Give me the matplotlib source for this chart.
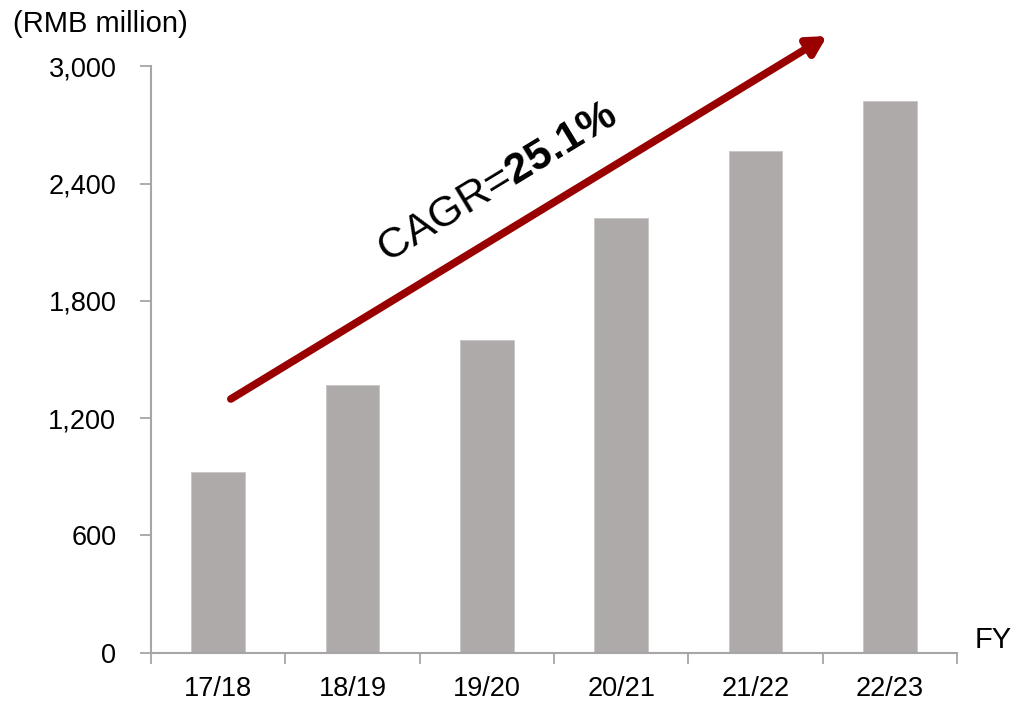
import matplotlib
matplotlib.use("Agg")
import matplotlib.pyplot as plt
import numpy as np

# Revenue by fiscal year (RMB million)
fiscal_years = ["17/18", "18/19", "19/20", "20/21", "21/22", "22/23"]
revenue = [924, 1370, 1600, 2224, 2568, 2825]
y_ticks = [0, 600, 1200, 1800, 2400, 3000]
cagr_label = "25.1%"

plt.rcParams["font.family"] = ["Liberation Sans", "DejaVu Sans"]
plt.rcParams["mathtext.fontset"] = "custom"
plt.rcParams["mathtext.rm"] = "Liberation Sans"
plt.rcParams["mathtext.bf"] = "Liberation Sans:bold"

axis_gray = "#A6A6A6"
bar_gray = "#AEAAAA"
arrow_red = "#990000"

fig = plt.figure(figsize=(10.15, 7.02), dpi=100)
ax = fig.add_axes([0.1488, 0.0705, 0.7941, 0.8348])

x = np.arange(len(fiscal_years))
ax.bar(x, revenue, width=0.40, color=bar_gray, edgecolor="#C8C5C5", linewidth=0.6, zorder=2)

ax.set_xlim(-0.5, len(fiscal_years) - 0.5)
ax.set_ylim(0, 3000)

# y axis
ax.set_yticks(y_ticks)
ax.set_yticklabels([f"{v:,}" for v in y_ticks])
# x axis: category labels centred, ticks on the boundaries
ax.set_xticks(x)
ax.set_xticklabels(fiscal_years)
ax.set_xticks(np.arange(-0.5, len(fiscal_years) + 0.5, 1), minor=True)
ax.tick_params(axis="x", which="major", length=0, pad=17, labelsize=19.5)
ax.tick_params(axis="x", which="minor", length=8, width=1.3, color=axis_gray, direction="out")
ax.tick_params(axis="y", length=8, width=1.3, color=axis_gray, direction="out", pad=17, labelsize=19.5)

for side in ("top", "right"):
    ax.spines[side].set_visible(False)
for side in ("left", "bottom"):
    ax.spines[side].set_color(axis_gray)
    ax.spines[side].set_linewidth(1.5)

fig.text(0.013, 0.966, "(RMB million)", fontsize=21, ha="left", va="center")
fig.text(0.960, 0.088, "FY", fontsize=21, ha="left", va="center")

# growth arrow with CAGR annotation
ax.annotate("", xy=(0.8387, 1.052), xytext=(0.099, 0.4326), xycoords="axes fraction",
            textcoords="axes fraction", annotation_clip=False,
            arrowprops=dict(arrowstyle="-|>,head_length=1.1,head_width=0.6",
                            color=arrow_red, lw=5.5, shrinkA=0, shrinkB=0))
ax.text(0.430, 0.80, "CAGR=$\\mathbf{" + cagr_label.replace("%", "\\%") + "}$",
        transform=ax.transAxes, fontsize=31, rotation=31.3,
        ha="center", va="center", rotation_mode="anchor")

fig.savefig("out.png", dpi=100)
